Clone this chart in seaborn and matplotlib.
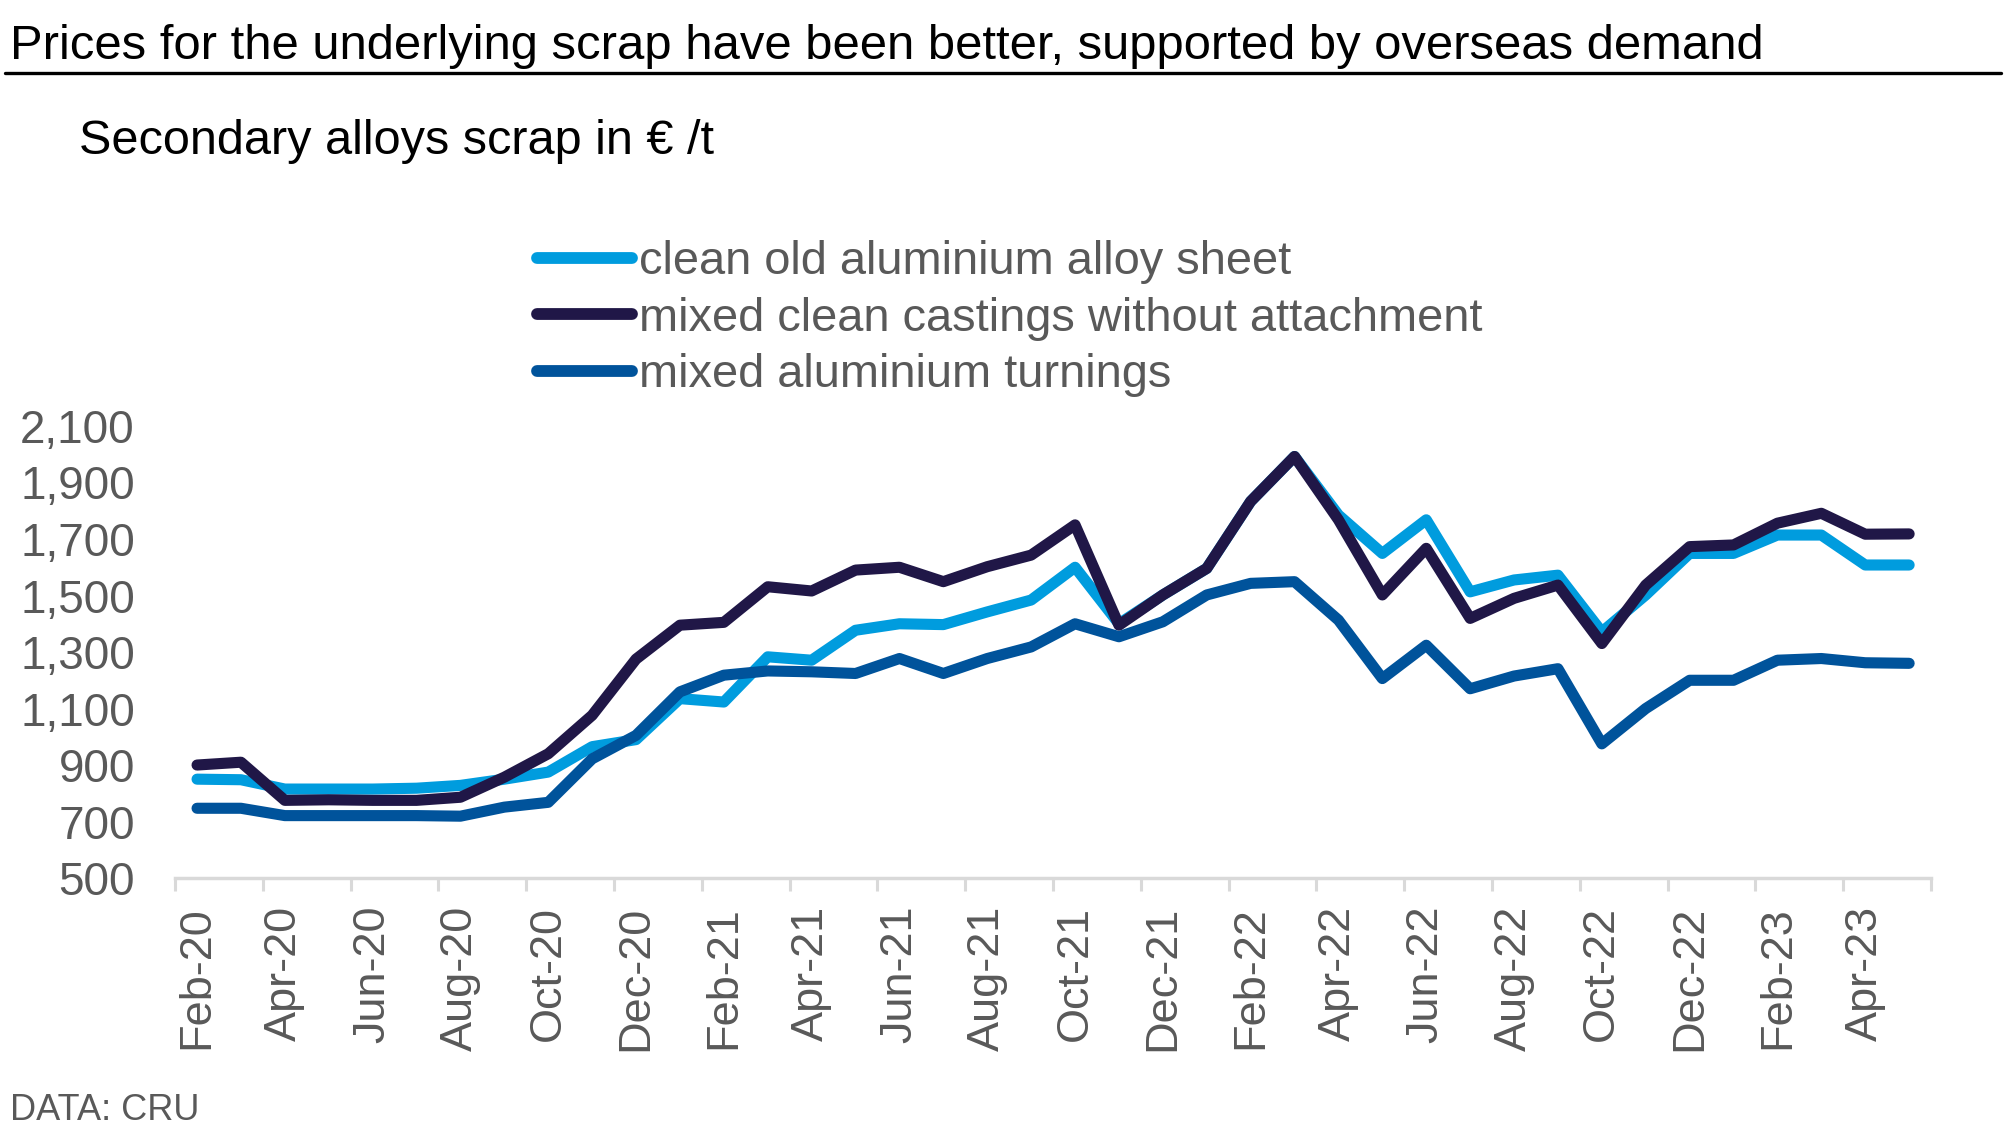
import pandas as pd
import matplotlib
matplotlib.use("Agg")
import matplotlib.pyplot as plt
from matplotlib.lines import Line2D
import seaborn as sns

# ── data (EUR per tonne, Feb-20 .. May-23) ───────────────────────────────────
months = pd.date_range("2020-02-01", periods=40, freq="MS").strftime("%b-%y").tolist()

clean_sheet = [850, 848, 815, 815, 815, 818, 828, 850, 875, 965,
               990, 1135, 1123, 1283, 1271, 1377, 1400, 1397, 1442, 1484,
               1600, 1400, 1502, 1596, 1833, 1992, 1785, 1649, 1768, 1513,
               1555, 1572, 1371, 1502, 1649, 1649, 1714, 1714, 1608, 1608]

castings = [900, 910, 775, 777, 775, 775, 786, 857, 940, 1076,
            1275, 1395, 1405, 1531, 1516, 1590, 1600, 1549, 1602, 1643,
            1750, 1395, 1502, 1596, 1833, 1992, 1768, 1502, 1667, 1419,
            1490, 1537, 1330, 1537, 1673, 1679, 1756, 1791, 1717, 1718]

turnings = [747, 747, 721, 721, 721, 721, 719, 751, 768, 922,
            1005, 1159, 1218, 1233, 1230, 1224, 1277, 1224, 1277, 1318,
            1400, 1354, 1407, 1502, 1543, 1549, 1413, 1206, 1324, 1170,
            1215, 1241, 975, 1100, 1200, 1200, 1271, 1277, 1262, 1260]

series_names = ["clean old aluminium alloy sheet",
                "mixed clean castings without attachment",
                "mixed aluminium turnings"]
series_colors = ["#009CDE", "#201747", "#00539B"]
tick_labels = months[::2]
y_ticks = list(range(500, 2101, 200))

df = pd.DataFrame({
    "month": months,
    series_names[0]: clean_sheet,
    series_names[1]: castings,
    series_names[2]: turnings,
})
df["pos"] = range(len(df))
long_df = df.melt(id_vars=["month", "pos"], var_name="series", value_name="price")

# ── style ────────────────────────────────────────────────────────────────────
sns.set_theme(style="white")
plt.rcParams["font.family"] = ["Liberation Sans", "DejaVu Sans"]
grey_txt = "#595959"
axis_grey = "#D9D9D9"

fig = plt.figure(figsize=(20.08, 11.39), dpi=100)
ax = fig.add_axes([0.0872, 0.2291, 0.8745, 0.3969])

sns.lineplot(data=long_df, x="pos", y="price", hue="series",
             hue_order=series_names, palette=series_colors,
             linewidth=8, legend=False, ax=ax,
             solid_capstyle="round", solid_joinstyle="round")

ax.set_xlim(-0.5, 39.5)
ax.set_ylim(500, 2100)
ax.set_xlabel("")
ax.set_ylabel("")

for side in ["top", "right", "left"]:
    ax.spines[side].set_visible(False)
ax.spines["bottom"].set_color(axis_grey)
ax.spines["bottom"].set_linewidth(2.5)

# month labels sit between the boundary tick marks
ax.set_xticks(range(0, 40, 2))
ax.set_xticklabels(tick_labels, rotation=90)
ax.set_xticks([p - 0.5 for p in range(0, 41, 2)], minor=True)
ax.tick_params(axis="x", which="major", length=0, pad=20,
               labelsize=32.5, labelcolor=grey_txt)
ax.tick_params(axis="x", which="minor", bottom=True, length=9.5, width=2.2,
               color=axis_grey, direction="out")

ax.set_yticks(y_ticks)
ax.set_yticklabels([f"{v:,}" for v in y_ticks])
ax.tick_params(axis="y", length=0, pad=29, labelsize=33, labelcolor=grey_txt)
ax.grid(False)

# ── legend ───────────────────────────────────────────────────────────────────
handles = [Line2D([0], [0], color=c, lw=8.5, solid_capstyle="round")
           for c in series_colors]
fig.legend(handles, series_names, loc="upper left",
           bbox_to_anchor=(0.2674, 1 - 240 / 1139), frameon=False, fontsize=33.8,
           labelcolor=grey_txt, handlelength=2.03, handletextpad=0.14,
           labelspacing=0.27, borderpad=0, borderaxespad=0)

# ── titles and source ────────────────────────────────────────────────────────
fig.text(10 / 2008, 1 - 59 / 1139,
         "Prices for the underlying scrap have been better, supported by overseas demand",
         fontsize=35.3, color="black", va="baseline", ha="left")
fig.add_artist(Line2D([5 / 2008, 2001 / 2008], [1 - 73 / 1139] * 2,
                      color="black", lw=2.4, transform=fig.transFigure))
fig.text(79 / 2008, 1 - 154 / 1139, "Secondary alloys scrap in € /t",
         fontsize=35, color="black", va="baseline", ha="left")
fig.text(10 / 2008, 1 - 1110 / 1139, "DATA: CRU",
         fontsize=26, color=grey_txt, va="center", ha="left")

fig.savefig("out.png", dpi=100)
